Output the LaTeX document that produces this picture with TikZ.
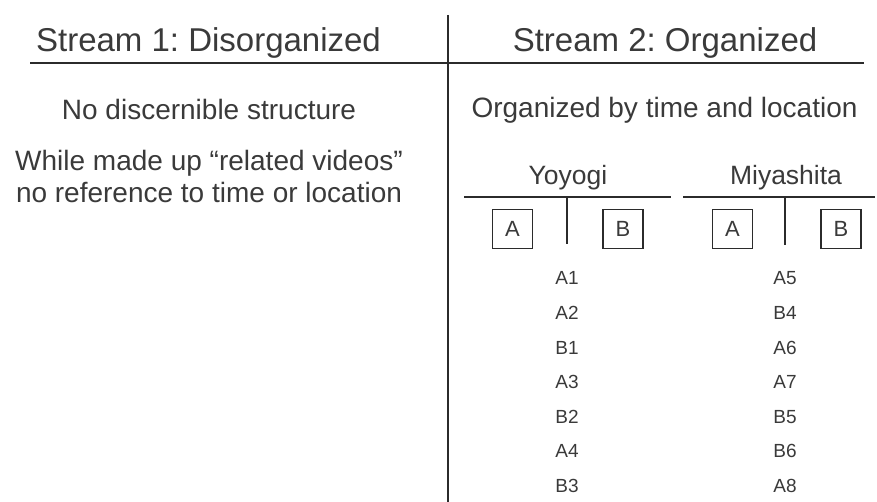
\documentclass[tikz,border=0pt]{standalone}
\usepackage{fontspec}
\setmainfont{Liberation Sans}
\usepackage{tikz}
\usetikzlibrary{positioning}
\frenchspacing
\definecolor{ink}{HTML}{3A3A3A}
\definecolor{rulegray}{HTML}{2B2B2B}
\tikzset{
  streamtitle/.style={anchor=base,text=ink,inner sep=0pt,
                      font=\fontsize{33}{36}\selectfont},
  remark/.style={anchor=base,text=ink,inner sep=0pt,
                 font=\fontsize{28}{32}\selectfont},
  venue/.style={anchor=base,text=ink,inner sep=0pt,
                font=\fontsize{26.5}{30}\selectfont},
  camlabel/.style={draw=rulegray,line width=1.3pt,minimum width=40pt,
                   minimum height=39pt,inner sep=0pt,text=ink,
                   font=\fontsize{22}{24}\selectfont},
  entry/.style={anchor=base,text=ink,inner sep=0pt,
                font=\fontsize{19}{21}\selectfont},
  divider/.style={draw=rulegray,line width=1.3pt},
  headrule/.style={draw=rulegray,line width=1.8pt},
}
\begin{document}
\begin{tikzpicture}[x=1pt,y=-1pt]
  \useasboundingbox (0,0) rectangle (877,502);

  % column rule and heading rule
  \coordinate (coltop) at (448,15);
  \coordinate (colbot) at (448,502);
  \coordinate (ruleL) at (30,63);
  \coordinate (ruleR) at (864,63);
  \draw[divider] (coltop) -- (colbot);
  \draw[headrule] (ruleL) -- (ruleR);

  \node[streamtitle] (s1) at (208.5,52) {Stream 1: Disorganized};
  \node[streamtitle] (s2) at (665,52) {Stream 2: Organized};

  % left column
  \node[remark] (nostruct) at (209,120) {No discernible structure};
  \node[remark] (related) at (209,171) {While made up “related videos”};
  \node[remark] (noref) at (209,203) {no reference to time or location};

  % right column
  \node[remark] (bytime) at (664.5,118) {Organized by time and location};

  \node[venue] (yoyogi) at (568,185) {Yoyogi};
  \node[venue] (miya) at (786,185) {Miyashita};

  \coordinate (yoyL) at (464,197);
  \coordinate (yoyR) at (671,197);
  \coordinate (yoySplit) at (567,197);
  \coordinate (yoyEnd) at (567,244);
  \coordinate (miyL) at (683,197);
  \coordinate (miyR) at (875,197);
  \coordinate (miySplit) at (785,197);
  \coordinate (miyEnd) at (785,245);
  \draw[divider] (yoyL) -- (yoyR);
  \draw[divider] (miyL) -- (miyR);
  \draw[divider] (yoySplit) -- (yoyEnd);
  \draw[divider] (miySplit) -- (miyEnd);

  \node[camlabel] (yA) at (512.5,229) {A};
  \node[camlabel] (yB) at (623,229) {B};
  \node[camlabel] (mA) at (732.5,229) {A};
  \node[camlabel] (mB) at (841,229) {B};

  % clip order per location
  \foreach \shot [count=\i] in {A1,A2,B1,A3,B2,A4,B3}
    \node[entry] (y\i) at (567,{285+34.5*(\i-1)}) {\shot};
  \foreach \shot [count=\i] in {A5,B4,A6,A7,B5,B6,A8}
    \node[entry] (m\i) at (785,{285+34.5*(\i-1)}) {\shot};
\end{tikzpicture}
\end{document}
